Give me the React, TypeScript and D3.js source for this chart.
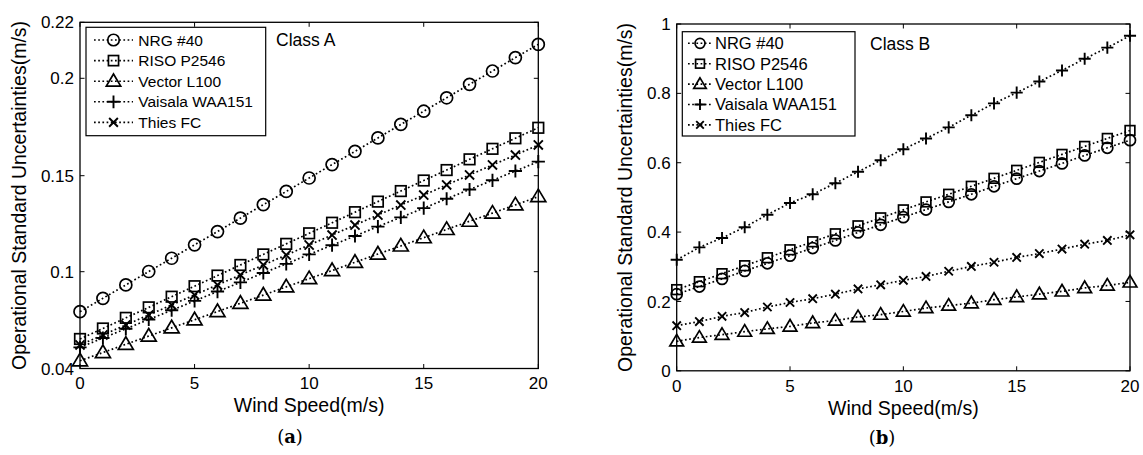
import * as d3 from "d3";

// wind speed steps (m/s)
const windSpeed = [0, 1, 2, 3, 4, 5, 6, 7, 8, 9, 10, 11, 12, 13, 14, 15, 16, 17, 18, 19, 20];

const seriesNames = ["NRG #40", "RISO P2546", "Vector L100", "Vaisala WAA151", "Thies FC"];
const markerKinds = ["circle", "square", "triangle", "plus", "cross"];

// Class A (m/s)
const nrgA = [0.0752, 0.0835, 0.0918, 0.1001, 0.107, 0.114, 0.1209, 0.1279, 0.1349, 0.1418, 0.1488, 0.1557, 0.1625, 0.1694, 0.1763, 0.1831, 0.19, 0.1969, 0.2026, 0.2074, 0.2121];
const risoA = [0.0583, 0.0648, 0.0714, 0.0779, 0.0845, 0.091, 0.0976, 0.1035, 0.109, 0.1145, 0.12, 0.1255, 0.131, 0.1365, 0.142, 0.1475, 0.1529, 0.1584, 0.1638, 0.1692, 0.1746];
const vectorA = [0.0448, 0.0499, 0.055, 0.0601, 0.0652, 0.0702, 0.0753, 0.0804, 0.0855, 0.0906, 0.0957, 0.1006, 0.1049, 0.1092, 0.1134, 0.1177, 0.122, 0.1263, 0.1305, 0.1348, 0.1391];
const vaisalaA = [0.0531, 0.0589, 0.0646, 0.0704, 0.0761, 0.0819, 0.0877, 0.0934, 0.0992, 0.1041, 0.109, 0.1138, 0.1186, 0.1235, 0.1283, 0.1331, 0.138, 0.1428, 0.1476, 0.1524, 0.1572];
const thiesA = [0.0546, 0.0608, 0.067, 0.0732, 0.0794, 0.0856, 0.0918, 0.098, 0.1035, 0.1087, 0.1139, 0.1191, 0.1243, 0.1295, 0.1347, 0.1399, 0.1452, 0.1504, 0.1555, 0.1606, 0.1658];

// Class B (m/s)
const nrgB = [0.221, 0.243, 0.265, 0.288, 0.31, 0.332, 0.354, 0.376, 0.399, 0.421, 0.443, 0.465, 0.487, 0.509, 0.532, 0.554, 0.576, 0.598, 0.621, 0.643, 0.665];
const risoB = [0.234, 0.257, 0.28, 0.303, 0.326, 0.349, 0.372, 0.395, 0.418, 0.441, 0.464, 0.487, 0.509, 0.532, 0.555, 0.578, 0.601, 0.624, 0.647, 0.67, 0.693];
const vectorB = [0.085, 0.096, 0.104, 0.113, 0.121, 0.128, 0.138, 0.145, 0.155, 0.162, 0.171, 0.181, 0.188, 0.195, 0.205, 0.213, 0.221, 0.229, 0.239, 0.246, 0.255];
const vaisalaB = [0.32, 0.356, 0.383, 0.414, 0.45, 0.484, 0.509, 0.541, 0.574, 0.607, 0.639, 0.67, 0.702, 0.737, 0.771, 0.802, 0.834, 0.866, 0.9, 0.932, 0.966];
const thiesB = [0.13, 0.142, 0.157, 0.168, 0.184, 0.197, 0.208, 0.221, 0.236, 0.248, 0.261, 0.272, 0.287, 0.301, 0.313, 0.327, 0.338, 0.351, 0.365, 0.376, 0.392];

const xTicks = [0, 5, 10, 15, 20];
const yTicksA = [0.04, 0.1, 0.15, 0.2, 0.22];
const yTickLabelsA = ["0.04", "0.1", "0.15", "0.2", "0.22"];
const yTicksB = [0, 0.2, 0.4, 0.6, 0.8, 1];
const yTickLabelsB = ["0", "0.2", "0.4", "0.6", "0.8", "1"];

const FONT = "'Liberation Sans', Arial, Helvetica, sans-serif";
const TICK = 4.5;

const Marker = ({ kind, x, y, s }) => {
  const common = { fill: "none", stroke: "black", strokeWidth: 1.7 };
  const h = s / 2;
  if (kind === "circle") return <circle cx={x} cy={y} r={h} {...common} />;
  if (kind === "square") return <rect x={x - h * 0.88} y={y - h * 0.88} width={s * 0.88} height={s * 0.88} {...common} />;
  if (kind === "triangle") {
    const w = s * 1.25, t = s * 1.05;
    return <path d={`M${x},${y - t * 0.6}L${x - w / 2},${y + t * 0.4}L${x + w / 2},${y + t * 0.4}Z`} {...common} />;
  }
  if (kind === "plus") {
    const p = s * 0.55;
    return <path d={`M${x - p},${y}H${x + p}M${x},${y - p}V${y + p}`} {...common} strokeWidth={1.9} />;
  }
  const c = s * 0.38;
  return <path d={`M${x - c},${y - c}L${x + c},${y + c}M${x - c},${y + c}L${x + c},${y - c}`} {...common} strokeWidth={1.9} />;
};

const Panel = ({ cfg }) => {
  const xScale = d3.scaleLinear().domain([0, 20]).range([cfg.left, cfg.right]);
  const yScale = d3.scaleLinear().domain(cfg.yDomain).range(cfg.yRange);
  const [top, bottom] = [cfg.top, cfg.bottom];
  const line = d3.line().x((d) => xScale(d[0])).y((d) => yScale(d[1]));
  const lg = cfg.legend;

  return (
    <g fontFamily={FONT}>
      {/* series */}
      {cfg.series.map((vals, si) => (
        <g key={si}>
          <path
            d={line(windSpeed.map((w, i) => [w, vals[i]]))}
            fill="none"
            stroke="black"
            strokeWidth={1.7}
            strokeDasharray="1.7 2.5"
          />
          {windSpeed.map((w, i) => (
            <Marker key={i} kind={markerKinds[si]} x={xScale(w)} y={yScale(vals[i])} s={cfg.markerSize} />
          ))}
        </g>
      ))}

      {/* axes box and ticks */}
      <rect x={cfg.left} y={top} width={cfg.right - cfg.left} height={bottom - top} fill="none" stroke="black" strokeWidth={1.3} />
      {xTicks.map((t) => (
        <g key={`x${t}`}>
          <line x1={xScale(t)} x2={xScale(t)} y1={bottom} y2={bottom - TICK} stroke="black" />
          <line x1={xScale(t)} x2={xScale(t)} y1={top} y2={top + TICK} stroke="black" />
          <text x={xScale(t)} y={cfg.xTickBase} textAnchor="middle" fontSize={17}>{t}</text>
        </g>
      ))}
      {cfg.yTicks.map((t, i) => (
        <g key={`y${t}`}>
          <line x1={cfg.left} x2={cfg.left + TICK} y1={yScale(t)} y2={yScale(t)} stroke="black" />
          <line x1={cfg.right} x2={cfg.right - TICK} y1={yScale(t)} y2={yScale(t)} stroke="black" />
          <text x={cfg.left - 6} y={yScale(t)} dy="0.36em" textAnchor="end" fontSize={17}>{cfg.yTickLabels[i]}</text>
        </g>
      ))}

      {/* axis titles */}
      <text x={(cfg.left + cfg.right) / 2} y={cfg.xLabelBase} textAnchor="middle" fontSize={19.5}>Wind Speed(m/s)</text>
      <text
        transform={`translate(${cfg.yLabelBase},${(top + bottom) / 2}) rotate(-90)`}
        textAnchor="middle"
        fontSize={19.5}
      >
        Operational Standard Uncertainties(m/s)
      </text>
      <text x={cfg.classX} y={cfg.classY} fontSize={17.5}>{cfg.className}</text>

      {/* legend */}
      <rect x={lg.x} y={lg.y} width={lg.w} height={lg.h} fill="white" stroke="black" strokeWidth={1.2} />
      {seriesNames.map((name, i) => {
        const ry = lg.row0 + i * lg.dy;
        return (
          <g key={name}>
            <line x1={lg.lineX1} x2={lg.lineX2} y1={ry} y2={ry} stroke="black" strokeWidth={1.6} strokeDasharray="1.7 2.5" />
            <Marker kind={markerKinds[i]} x={lg.markX} y={ry} s={lg.markSize} />
            <text x={lg.textX} y={ry} dy="0.36em" fontSize={lg.font}>{name}</text>
          </g>
        );
      })}

      {/* panel letter */}
      <text x={cfg.letterX} y={cfg.letterY} textAnchor="middle" fontSize={18} fontFamily="'DejaVu Serif', 'Liberation Serif', serif">
        (<tspan fontWeight="bold">{cfg.letter}</tspan>)
      </text>
    </g>
  );
};

const panelA = {
  left: 80, right: 538.3, top: 22.3, bottom: 368.5,
  yDomain: yTicksA, yRange: [368.5, 271.7, 175.7, 78.3, 22.3],
  yTicks: yTicksA, yTickLabels: yTickLabelsA,
  series: [nrgA, risoA, vectorA, vaisalaA, thiesA],
  markerSize: 12,
  xTickBase: 389, xLabelBase: 412, yLabelBase: 26,
  className: "Class A", classX: 276, classY: 46,
  letter: "a", letterX: 290, letterY: 443,
  legend: { x: 86, y: 27.3, w: 179.7, h: 108.4, row0: 40, dy: 20.6, lineX1: 94, lineX2: 133, markX: 113.5, markSize: 11.5, textX: 138.3, font: 15.5 },
};

const panelB = {
  left: 676.7, right: 1130, top: 24, bottom: 370.8,
  yDomain: [0, 1], yRange: [370.8, 24],
  yTicks: yTicksB, yTickLabels: yTickLabelsB,
  series: [nrgB, risoB, vectorB, vaisalaB, thiesB],
  markerSize: 11,
  xTickBase: 392, xLabelBase: 415, yLabelBase: 632,
  className: "Class B", classX: 870, classY: 50,
  letter: "b", letterX: 882, letterY: 444,
  legend: { x: 682.3, y: 31.7, w: 172.7, h: 104.3, row0: 43.3, dy: 20.4, lineX1: 688, lineX2: 712, markX: 700, markSize: 10, textX: 715, font: 16.5 },
};

export default function App() {
  return (
    <svg width={1143} height={455} style={{ position: "absolute", left: 0, top: 0, background: "white" }}>
      <Panel cfg={panelA} />
      <Panel cfg={panelB} />
    </svg>
  );
}
